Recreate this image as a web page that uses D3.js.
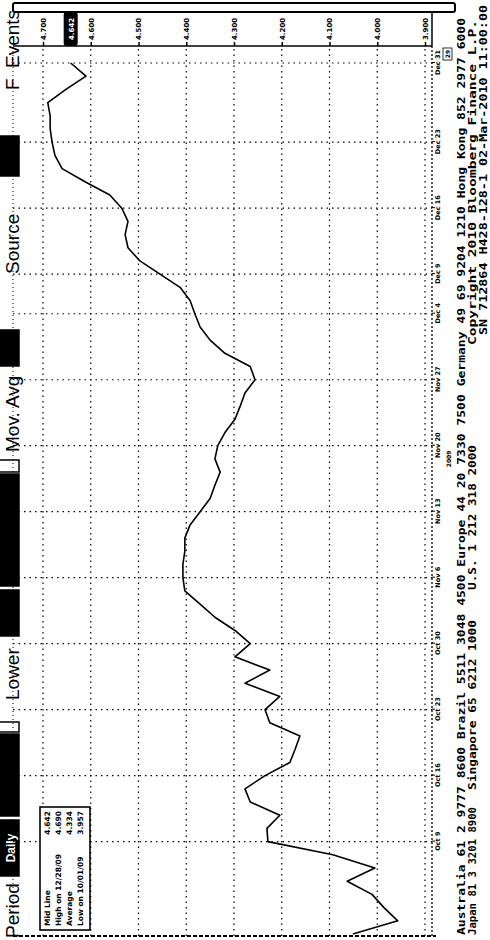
<!DOCTYPE html>
<html><head><meta charset="utf-8">
<script src="https://cdn.jsdelivr.net/npm/d3@7"></script>
<style>body{margin:0;background:#fff}svg{display:block}</style>
</head><body><svg></svg>
<script>
// daily mid yield, oldest first
var dates = ["2009-09-30",
  "2009-10-01","2009-10-02","2009-10-05","2009-10-06","2009-10-07","2009-10-08","2009-10-09","2009-10-12","2009-10-13","2009-10-14","2009-10-15","2009-10-16","2009-10-19","2009-10-20","2009-10-21","2009-10-22","2009-10-23","2009-10-26","2009-10-27","2009-10-28","2009-10-29","2009-10-30",
  "2009-11-02","2009-11-03","2009-11-04","2009-11-05","2009-11-06","2009-11-09","2009-11-10","2009-11-11","2009-11-12","2009-11-13","2009-11-16","2009-11-17","2009-11-18","2009-11-19","2009-11-20","2009-11-23","2009-11-24","2009-11-25","2009-11-26","2009-11-27","2009-11-30",
  "2009-12-01","2009-12-02","2009-12-03","2009-12-04","2009-12-07","2009-12-08","2009-12-09","2009-12-10","2009-12-11","2009-12-14","2009-12-15","2009-12-16","2009-12-17","2009-12-18","2009-12-21","2009-12-22","2009-12-23","2009-12-24","2009-12-25","2009-12-28","2009-12-29","2009-12-30","2009-12-31"];
var yields = [4.051,
  3.957,3.986,4.011,4.063,4.005,4.093,4.229,4.231,4.204,4.266,4.277,4.235,4.183,4.172,4.162,4.225,4.235,4.204,4.277,4.225,4.298,4.266,
  4.298,4.340,4.371,4.403,4.407,4.407,4.403,4.403,4.392,4.371,4.350,4.340,4.329,4.340,4.334,4.319,4.298,4.287,4.277,4.256,4.266,
  4.319,4.350,4.371,4.382,4.392,4.413,4.455,4.497,4.522,4.528,4.522,4.535,4.560,4.612,4.660,4.675,4.681,4.685,4.685,4.690,4.652,4.610,4.642];

var valueTicks = [4.7,4.6,4.5,4.4,4.3,4.2,4.1,4.0,3.9];
var dateTicks = ["2009-10-09","2009-10-16","2009-10-23","2009-10-30","2009-11-06","2009-11-13","2009-11-20","2009-11-27","2009-12-04","2009-12-09","2009-12-16","2009-12-23","2009-12-31"];
var dateTickLabels = ["Oct 9","Oct 16","Oct 23","Oct 30","Nov 6","Nov 13","Nov 20","Nov 27","Dec 4","Dec 9","Dec 16","Dec 23","Dec 31"];
var lastValue = 4.642;
var legendNames = ["Mid Line","High on 12/28/09","Average","Low on 10/01/09"];
var legendValues = ["4.642","4.690","4.334","3.957"];

var footer1 = "Australia 61 2 9777 8600 Brazil 5511 3048 4500 Europe 44 20 7330 7500 Germany 49 69 9204 1210 Hong Kong 852 2977 6000";
var footer2 = ["Japan 81 3 3201 8900","Singapore 65 6212 1000","U.S. 1 212 318 2000","Copyright 2010 Bloomberg Finance L.P."];
var footer3 = "SN 712864 H428-128-1 02-Mar-2010 11:00:00";

// the whole page is printed sideways
var svg = d3.select("svg").attr("width", 490).attr("height", 940);
svg.append("rect").attr("width", 490).attr("height", 940).attr("fill", "#fff");
var g = svg.append("g").attr("transform", "translate(0,940) rotate(-90)");

var plot = {left: 4, right: 894, top: 13, bottom: 432};

var x = d3.scalePoint().domain(dates).range([6, 877]);
var y = d3.scaleLinear().domain([3.9, 4.7]).range([425, 43]);

var dotted = "1.5,4";

// header strip
var hf = "Liberation Sans, Arial, sans-serif";
function htext(t, ux) {
  g.append("text").attr("x", ux).attr("y", 19).attr("font-family", hf)
    .attr("font-size", 19).attr("fill", "#000").text(t);
}
function hbox(a, b, fill) {
  g.append("rect").attr("x", a).attr("y", -2).attr("width", b - a).attr("height", 21)
    .attr("fill", fill).attr("stroke", "#000").attr("stroke-width", 1.5);
}
htext("Period", 2);
hbox(64, 120, "#000");
g.append("text").attr("x", 92).attr("y", 15).attr("text-anchor", "middle").attr("font-family", hf)
  .attr("font-size", 12).attr("font-weight", "bold").attr("fill", "#fff").text("Daily");
hbox(124, 206, "#000");
hbox(208, 218, "#fff");
htext("Lower", 240);
hbox(304, 350, "#000");
hbox(354, 466, "#000");
hbox(468, 480, "#fff");
htext("Mov. Avg", 488);
hbox(574, 610, "#000");
htext("Source", 666);
hbox(764, 804, "#000");
htext("F", 850);
htext("Events", 872);

// value grid
g.append("g").selectAll("line").data(valueTicks).join("line")
  .attr("x1", plot.left).attr("x2", plot.right)
  .attr("y1", function(d) { return y(d); }).attr("y2", function(d) { return y(d); })
  .attr("stroke", "#000").attr("stroke-width", 1.2).attr("stroke-dasharray", dotted);

// date grid
g.append("g").selectAll("line").data(dateTicks).join("line")
  .attr("x1", function(d) { return x(d); }).attr("x2", function(d) { return x(d); })
  .attr("y1", plot.top).attr("y2", plot.bottom)
  .attr("stroke", "#000").attr("stroke-width", 1.2).attr("stroke-dasharray", dotted);

// plot borders
g.append("line").attr("x1", plot.left).attr("x2", plot.right).attr("y1", plot.top).attr("y2", plot.top)
  .attr("stroke", "#000").attr("stroke-width", 1).attr("stroke-dasharray", "1,3");
g.append("line").attr("x1", plot.left).attr("x2", plot.right).attr("y1", plot.bottom).attr("y2", plot.bottom)
  .attr("stroke", "#000").attr("stroke-width", 1.3).attr("stroke-dasharray", "2,2");
g.append("line").attr("x1", plot.left).attr("x2", plot.left).attr("y1", plot.top).attr("y2", plot.bottom + 4)
  .attr("stroke", "#000").attr("stroke-width", 2).attr("stroke-dasharray", "4,2");

// value axis band on the right
g.append("line").attr("x1", plot.right).attr("x2", plot.right).attr("y1", plot.top).attr("y2", 432)
  .attr("stroke", "#000").attr("stroke-width", 1.5);
g.append("line").attr("x1", plot.right).attr("x2", 928).attr("y1", 432).attr("y2", 432)
  .attr("stroke", "#000").attr("stroke-width", 1.5);
g.append("rect").attr("x", 928).attr("y", 13).attr("width", 9).attr("height", 442).attr("rx", 2)
  .attr("fill", "#fff").attr("stroke", "#000").attr("stroke-width", 2);

var yAxis = g.append("g").attr("transform", "translate(" + plot.right + ",0)")
  .call(d3.axisRight(y).tickValues(valueTicks).tickSize(4).tickFormat(d3.format(".3f")));
yAxis.select(".domain").remove();
yAxis.selectAll("text").attr("font-family", "DejaVu Sans, sans-serif").attr("font-size", 7)
  .attr("font-weight", "bold").attr("x", 6);
yAxis.selectAll("line").attr("stroke-width", 1.5);

// last value marker
var lastG = g.append("g");
lastG.append("rect").attr("x", plot.right).attr("y", y(lastValue) - 7).attr("width", 34).attr("height", 14)
  .attr("rx", 3).attr("fill", "#000");
lastG.append("text").attr("x", plot.right + 6).attr("y", y(lastValue) + 3)
  .attr("font-family", "DejaVu Sans, sans-serif").attr("font-size", 7).attr("font-weight", "bold")
  .attr("fill", "#fff").text(d3.format(".3f")(lastValue));

// date axis along the bottom
var xAxis = g.append("g").attr("transform", "translate(0," + plot.bottom + ")")
  .call(d3.axisBottom(x).tickValues(dateTicks).tickSize(3)
    .tickFormat(function(d) { return dateTickLabels[dateTicks.indexOf(d)]; }));
xAxis.select(".domain").remove();
xAxis.selectAll("text").attr("font-family", "DejaVu Sans, sans-serif").attr("font-size", 6.5)
  .attr("font-weight", "bold").attr("dy", "0.3em");
g.append("text").attr("x", x("2009-11-19")).attr("y", 451).attr("text-anchor", "middle")
  .attr("font-family", "DejaVu Sans, sans-serif").attr("font-size", 6).attr("font-weight", "bold").text("2009");
g.append("rect").attr("x", 880).attr("y", 443).attr("width", 12).attr("height", 9)
  .attr("fill", "#fff").attr("stroke", "#000").attr("stroke-width", 0.8);
g.append("text").attr("x", 886).attr("y", 450).attr("text-anchor", "middle")
  .attr("font-family", "DejaVu Sans, sans-serif").attr("font-size", 6).attr("font-weight", "bold").text("29");

// yield line
var line = d3.line()
  .x(function(d, i) { return x(dates[i]); })
  .y(function(d) { return y(d); });
g.append("path").datum(yields).attr("d", line)
  .attr("fill", "none").attr("stroke", "#000").attr("stroke-width", 1.6).attr("stroke-linejoin", "round");

// legend
var lg = g.append("g");
lg.append("rect").attr("x", 10).attr("y", 40).attr("width", 123).attr("height", 50)
  .attr("fill", "#fff").attr("stroke", "#000").attr("stroke-width", 1.6);
legendNames.forEach(function(n, i) {
  lg.append("text").attr("x", 14).attr("y", 50 + i * 11).attr("font-family", "DejaVu Sans, sans-serif")
    .attr("font-size", 7.5).attr("font-weight", "bold").text(n);
  lg.append("text").attr("x", 129).attr("y", 50 + i * 11).attr("text-anchor", "end")
    .attr("font-family", "DejaVu Sans, sans-serif").attr("font-size", 7.5).attr("font-weight", "bold")
    .text(legendValues[i]);
});

// footer
var ff = "DejaVu Sans Mono, monospace";
function ftext(t, ux, uy, len) {
  g.append("text").attr("x", ux).attr("y", uy).attr("font-family", ff).attr("font-size", 11)
    .attr("font-weight", "bold").attr("textLength", len).attr("lengthAdjust", "spacingAndGlyphs").text(t);
}
ftext(footer1, 5, 465, 917);
ftext(footer2[0], 5, 476, 128);
ftext(footer2[1], 150, 476, 170);
ftext(footer2[2], 350, 476, 145);
ftext(footer2[3], 595, 476, 325);
ftext(footer3, 605, 487, 330);
</script>
</body></html>
